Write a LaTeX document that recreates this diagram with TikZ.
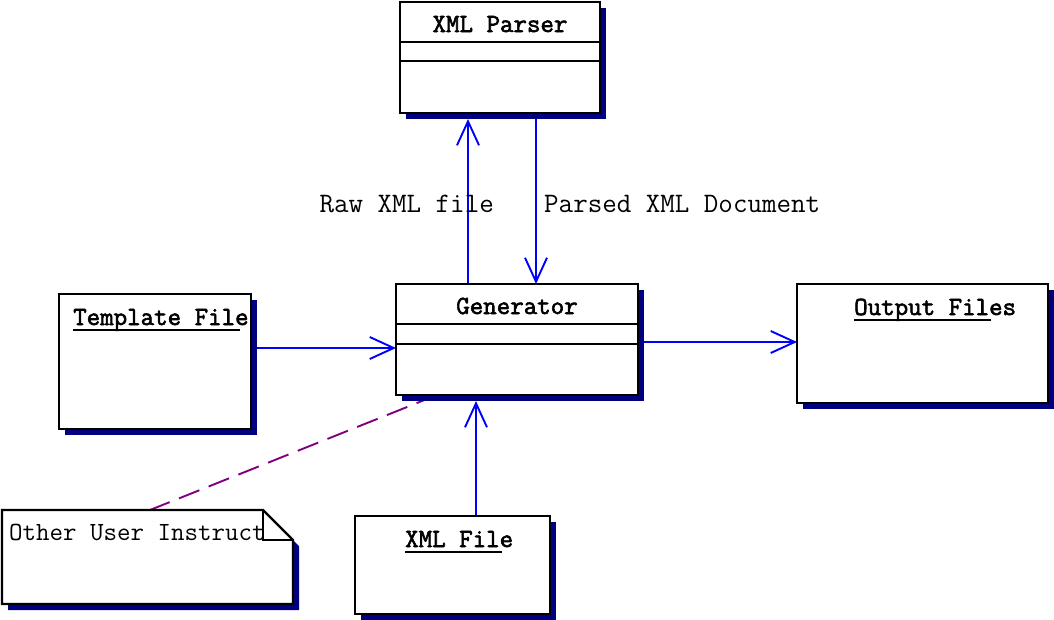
\documentclass[tikz,border=0pt]{standalone}
\usepackage{fontspec}
\newfontfamily\boldtt{Latin Modern Mono}[FakeBold=2.2]
\usetikzlibrary{arrows.meta,shadows,calc}
\definecolor{shadenavy}{RGB}{0,0,128}
\definecolor{notelink}{RGB}{128,0,128}
\pgfdeclarelayer{background}
\pgfsetlayers{background,main}
\begin{document}
\begin{tikzpicture}[x=1pt,y=-1pt,
  box/.style={draw=black, line width=2.3pt, fill=white, inner sep=0pt, outer sep=0pt, anchor=north west,
    general shadow={fill=shadenavy, shadow xshift=6pt, shadow yshift=-6pt}},
  ttl/.style={font=\boldtt\fontsize{26.2}{27}\selectfont, inner sep=0pt, anchor=base},
  ttlw/.style={font=\boldtt\fontsize{26.2}{27}\selectfont, inner sep=0pt, anchor=base west},
  lbl/.style={font=\ttfamily\fontsize{28.2}{29}\selectfont, inner sep=0pt},
  sep/.style={draw=black, line width=2.3pt},
  uline/.style={draw=black, line width=2.3pt},
  flow/.style={draw=blue, line width=1.9pt, -{Straight Barb[length=24pt,width=22pt,line width=1.9pt]}},
  dashlink/.style={draw=notelink, line width=1.9pt, dash pattern=on 22pt off 10pt}
]
\useasboundingbox (0,0) rectangle (1054,619);

% XML Parser
\node[box, minimum width=200pt, minimum height=111pt] (parser) at (400,2) {};
\node[ttl] (parsert) at (500,32) {XML Parser};
\draw[sep] (parser.west |- 0,42) -- (parser.east |- 0,42);
\draw[sep] (parser.west |- 0,61) -- (parser.east |- 0,61);

% Generator
\node[box, minimum width=242pt, minimum height=111pt] (gen) at (396,284) {};
\node[ttl] (gent) at (517,314) {Generator};
\draw[sep] (gen.west |- 0,324) -- (gen.east |- 0,324);
\draw[sep] (gen.west |- 0,344) -- (gen.east |- 0,344);

% Template File
\node[box, minimum width=192pt, minimum height=135pt] (tmpl) at (59,294) {};
\node[ttlw] (tmplt) at (73,325) {Template File};
\draw[uline] (73,330) -- (240,330);

% Output Files
\node[box, minimum width=251pt, minimum height=119pt] (out) at (797,284) {};
\node[ttlw] (outt) at (854,315) {Output Files};
\draw[uline] (854,320) -- (991,320);

% XML File
\node[box, minimum width=195pt, minimum height=98pt] (xmlf) at (355,516) {};
\node[ttlw] (xmlft) at (405,547) {XML File};
\draw[uline] (405,552) -- (502,552);

% Note
\coordinate (note) at (2,510);
\fill[shadenavy] ($(note)+(6,6)$) -- ++(261,0) -- ++(30,30) -- ++(0,64) -- ++(-291,0) -- cycle;
\draw[line width=2.3pt, fill=white, line join=miter] (note) -- ++(261,0) -- ++(30,30) -- ++(0,64) -- ++(-291,0) -- cycle;
\draw[line width=2.3pt] ($(note)+(261,0)$) -- ++(0,30) -- ++(30,0);
\node[font=\ttfamily\fontsize{26.2}{27}\selectfont, inner sep=0pt, anchor=base west] (notet) at (9,540) {Other User Instruct};

% Labels
\node[lbl, anchor=base east] (rawl) at (494,212) {Raw XML file};
\node[lbl, anchor=base west] (parsedl) at (544,212) {Parsed XML Document};

% Connectors
\begin{pgfonlayer}{background}
\draw[flow] (tmpl.east |- 0,348) -- (gen.west |- 0,348);
\draw[flow] (gen.east |- 0,342) -- (out.west |- 0,342);
\draw[flow] (gen.north -| 468,0) -- ($(parser.south -| 468,0)+(0,6)$);
\draw[flow] ($(parser.south -| 536,0)+(0,6)$) -- (gen.north -| 536,0);
\draw[flow] (xmlf.north -| 476,0) -- ($(gen.south -| 476,0)+(0,6)$);
\draw[dashlink] (gen.south -| 437,0) -- (note -| 150,0);
\end{pgfonlayer}
\end{tikzpicture}
\end{document}
